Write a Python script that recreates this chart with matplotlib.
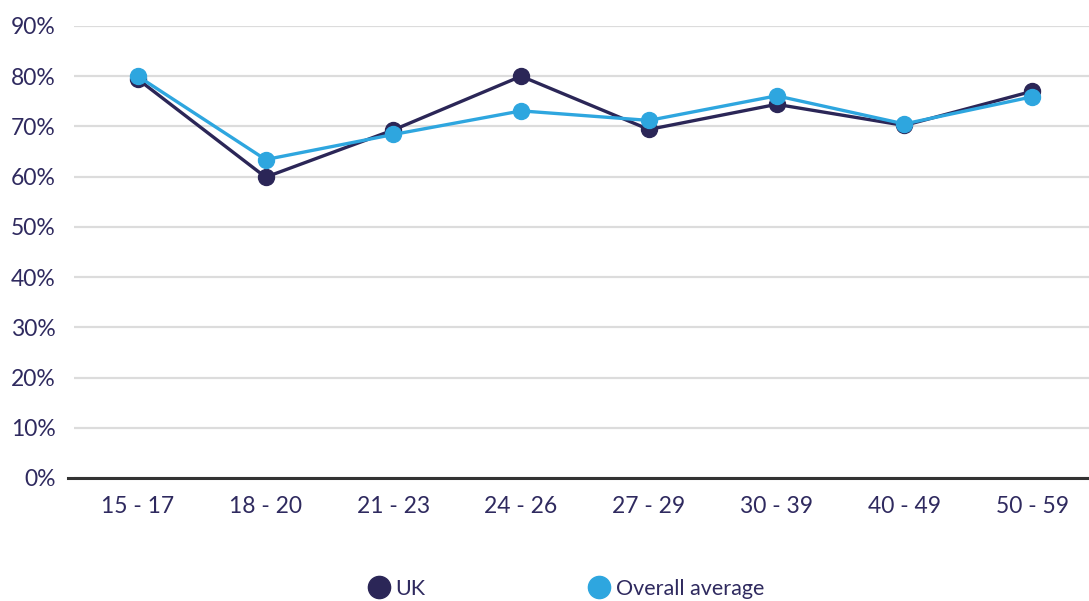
import matplotlib
matplotlib.use("Agg")
import matplotlib.pyplot as plt
from matplotlib.lines import Line2D
from matplotlib.ticker import FuncFormatter

age_groups = ["15 - 17", "18 - 20", "21 - 23", "24 - 26", "27 - 29", "30 - 39", "40 - 49", "50 - 59"]
uk = [79.4, 59.9, 69.3, 80.0, 69.4, 74.4, 70.2, 77.0]
overall_average = [80.0, 63.4, 68.4, 73.1, 71.2, 76.1, 70.5, 75.9]
y_ticks = [0, 10, 20, 30, 40, 50, 60, 70, 80, 90]

navy = "#2b2657"
blue = "#2ea6df"
text_color = "#2f2a5f"

plt.rcParams["font.family"] = ["Lato", "DejaVu Sans"]

W, H = 1089, 601
fig = plt.figure(figsize=(W / 100, H / 100), dpi=100)
left, right = 74, 1096
bottom, top = 478, 26
ax = fig.add_axes([left / W, (H - bottom) / H, (right - left) / W, (bottom - top) / H])

x = list(range(len(age_groups)))
ax.plot(x, uk, color=navy, lw=2.4, marker="o", ms=11.5, zorder=3, label="UK")
ax.plot(x, overall_average, color=blue, lw=2.4, marker="o", ms=11.5, zorder=4, label="Overall average")

ax.set_xlim(-0.5, len(age_groups) - 0.5)
ax.set_ylim(0, 90)
ax.set_yticks(y_ticks)
ax.yaxis.set_major_formatter(FuncFormatter(lambda v, _: f"{v:.0f}%"))
ax.set_xticks(x)
ax.set_xticklabels(age_groups)

ax.grid(axis="y", color="#dcdcdc", lw=1.6, zorder=0)
ax.set_axisbelow(True)
for s in ["top", "right", "left"]:
    ax.spines[s].set_visible(False)
ax.spines["bottom"].set_color("#333333")
ax.spines["bottom"].set_linewidth(2.2)
ax.spines["bottom"].set_bounds(-0.55, 7.5)
ax.spines["bottom"].set_zorder(5)
ax.tick_params(axis="both", length=0, labelsize=16.5, colors=text_color)
ax.tick_params(axis="y", pad=13)
ax.tick_params(axis="x", pad=13)

handles = [
    Line2D([], [], color=navy, marker="o", ms=16, lw=0),
    Line2D([], [], color=blue, marker="o", ms=16, lw=0),
]
fig.legend(handles, ["UK", "Overall average"], loc="center", bbox_to_anchor=(566 / W, (H - 589) / H),
           ncol=2, frameon=False, fontsize=15.5, labelcolor=text_color,
           handletextpad=0.25, columnspacing=7.6, handlelength=1.0)

fig.savefig("out.png", dpi=100)
